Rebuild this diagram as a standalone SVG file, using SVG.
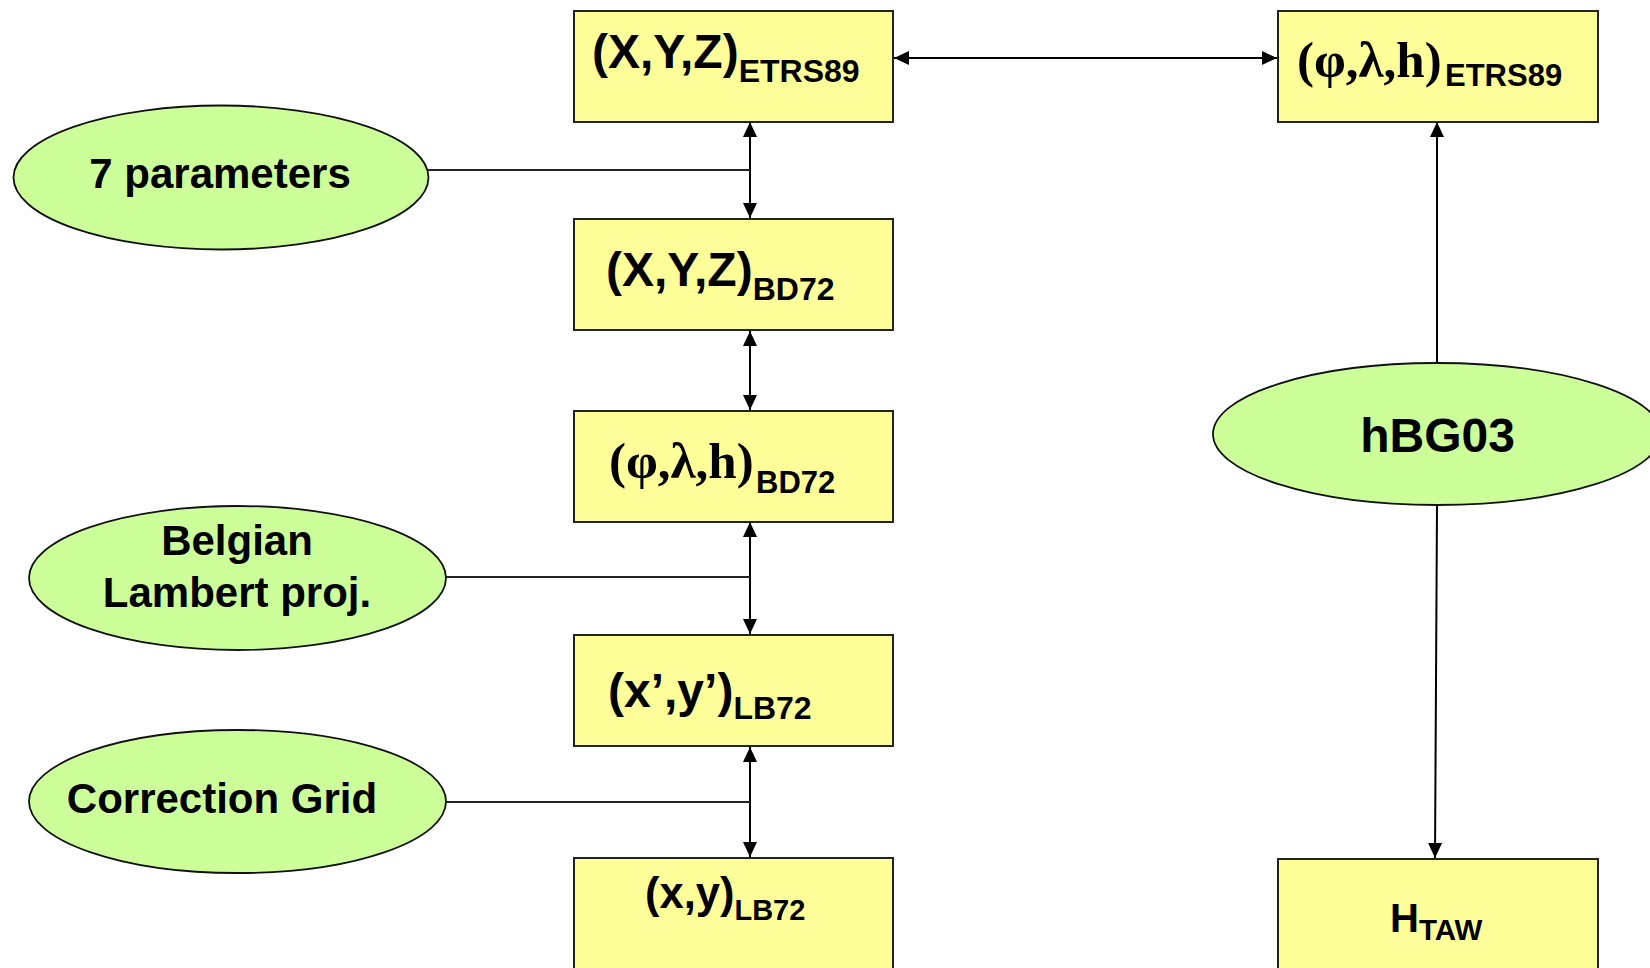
<svg xmlns="http://www.w3.org/2000/svg" width="1650" height="968" viewBox="0 0 1650 968">
  <style>
    .box { fill: #FFFF99; stroke: #222222; stroke-width: 2; }
    .ell { fill: #CCFF99; stroke: #111111; stroke-width: 1.8; }
    .sans { font-family: "Liberation Sans", Arial, sans-serif; font-weight: bold; fill: #000000; }
    .serif { font-family: "Liberation Serif", "Times New Roman", serif; font-weight: bold; fill: #000000; }
    .et { font-size: 42px; text-anchor: middle; }
    .conn { stroke: #000000; stroke-width: 2; fill: none; }
    .plain { stroke: #222222; stroke-width: 2; fill: none; }
  </style>
  <defs>
    <marker id="ah" viewBox="0 0 15 14" refX="15" refY="7" markerWidth="15" markerHeight="14" markerUnits="userSpaceOnUse" orient="auto-start-reverse">
      <path d="M0,0 L15,7 L0,14 Z" fill="#000000"/>
    </marker>
  </defs>
  <rect width="1650" height="968" fill="#FFFFFF"/>

  <g id="connectors">
    <line class="conn" x1="894" y1="58" x2="1277" y2="58" marker-start="url(#ah)" marker-end="url(#ah)"/>
    <line class="conn" x1="750" y1="122" x2="750" y2="218" marker-start="url(#ah)" marker-end="url(#ah)"/>
    <line class="conn" x1="750" y1="331" x2="750" y2="410" marker-start="url(#ah)" marker-end="url(#ah)"/>
    <line class="conn" x1="750" y1="522" x2="750" y2="634" marker-start="url(#ah)" marker-end="url(#ah)"/>
    <line class="conn" x1="750" y1="747" x2="750" y2="857" marker-start="url(#ah)" marker-end="url(#ah)"/>
    <line class="conn" x1="1437" y1="363" x2="1437" y2="122" marker-end="url(#ah)"/>
    <line class="conn" x1="1437" y1="505" x2="1435" y2="858" marker-end="url(#ah)"/>
    <line class="plain" x1="428" y1="170" x2="750" y2="170"/>
    <line class="plain" x1="445" y1="577" x2="750" y2="577"/>
    <line class="plain" x1="445" y1="802" x2="750" y2="802"/>
  </g>

  <g id="node-xyz-etrs89">
    <rect class="box" x="574" y="11" width="319" height="111"/>
    <text class="sans" x="592" y="68" font-size="48">(X,Y,Z)<tspan font-size="32" dy="14">ETRS89</tspan></text>
  </g>

  <g id="node-plh-etrs89">
    <rect class="box" x="1278" y="11" width="320" height="111"/>
    <text class="serif" x="1297" y="77" font-size="51">(φ,λ,h)</text>
    <text class="sans" x="1445" y="86" font-size="31">ETRS89</text>
  </g>

  <g id="node-xyz-bd72">
    <rect class="box" x="574" y="219" width="319" height="111"/>
    <text class="sans" x="606" y="286" font-size="48">(X,Y,Z)<tspan font-size="32" dy="14">BD72</tspan></text>
  </g>

  <g id="node-plh-bd72">
    <rect class="box" x="574" y="411" width="319" height="111"/>
    <text class="serif" x="609" y="478" font-size="51">(φ,λ,h)</text>
    <text class="sans" x="756" y="493" font-size="31">BD72</text>
  </g>

  <g id="node-xy-prime-lb72">
    <rect class="box" x="574" y="635" width="319" height="111"/>
    <text class="sans" x="608" y="707" font-size="48">(x’,y’)<tspan font-size="32" dy="12">LB72</tspan></text>
  </g>

  <g id="node-xy-lb72">
    <rect class="box" x="574" y="858" width="319" height="130"/>
    <text class="sans" x="645" y="908" font-size="43.5">(x,y)<tspan font-size="29" dy="12">LB72</tspan></text>
  </g>

  <g id="node-htaw">
    <rect class="box" x="1278" y="859" width="320" height="130"/>
    <text class="sans" x="1390" y="932" font-size="40">H<tspan font-size="29.5" dy="8">TAW</tspan></text>
  </g>

  <g id="node-7-parameters">
    <ellipse class="ell" cx="221" cy="177.5" rx="207.5" ry="72"/>
    <text class="sans et" x="220" y="188">7 parameters</text>
  </g>

  <g id="node-belgian-lambert">
    <ellipse class="ell" cx="237.5" cy="578" rx="208.5" ry="72"/>
    <text class="sans et" x="237" y="555">Belgian</text>
    <text class="sans et" x="237" y="607">Lambert proj.</text>
  </g>

  <g id="node-correction-grid">
    <ellipse class="ell" cx="237.5" cy="801.5" rx="208.5" ry="71.5"/>
    <text class="sans et" x="222" y="813">Correction Grid</text>
  </g>

  <g id="node-hbg03">
    <ellipse class="ell" cx="1437" cy="434" rx="224" ry="71"/>
    <text class="sans" x="1437.5" y="452" font-size="48" text-anchor="middle">hBG03</text>
  </g>
</svg>
